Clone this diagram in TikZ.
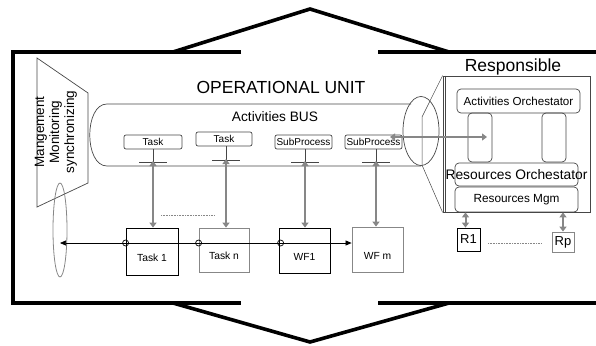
\documentclass[tikz,border=0pt]{standalone}
\usepackage{fontspec}
\setmainfont{Liberation Sans}
\usetikzlibrary{arrows.meta,shapes.geometric}
\definecolor{ag}{RGB}{135,135,135}
\definecolor{dg}{RGB}{70,70,70}
\begin{document}
\begin{tikzpicture}[x=1pt,y=-1pt,
  frameline/.style={line width=4.5pt,line join=miter},
  chev/.style={line width=3.6pt},
  thinline/.style={line width=0.7pt,draw=dg},
  sbox/.style={draw=dg,line width=0.7pt,rounded corners=2pt,inner sep=0pt,minimum height=14pt,font=\fontsize{10}{11}\selectfont},
  bbox/.style={draw,line width=0.8pt,inner sep=0pt,minimum width=52pt,minimum height=46pt,text height=19pt,text depth=0pt,font=\fontsize{10.3}{12}\selectfont},
  obox/.style={draw=dg,line width=0.7pt,rounded corners=4pt,inner sep=0pt},
  rbox/.style={draw,line width=0.8pt,inner sep=0pt,font=\fontsize{13}{14}\selectfont},
  garrow/.style={draw=ag,line width=2.3pt,{Triangle[length=5pt,width=7pt]}-{Triangle[length=5pt,width=7pt]}},
  dotl/.style={draw=ag,line width=0.8pt,dash pattern=on 1pt off 0.6pt},
  hline/.style={line width=0.7pt,{Triangle[length=6pt,width=5pt]}-{Triangle[length=6pt,width=5pt]}},
  ttl/.style={font=\fontsize{17.5}{20}\selectfont}
]
\useasboundingbox (0,0) rectangle (596,345);

% outer frame
\draw[frameline] (241,52) -- (13,52) -- (13,303) -- (241,303);
\draw[frameline] (378,52) -- (600,52);
\draw[frameline] (378,303) -- (600,303);
% chevrons
\draw[chev] (173,52) -- (310,9) -- (449,52);
\draw[chev] (173,303) -- (310,342) -- (449,303);

% titles
\node[ttl] (ou) at (281,87) {OPERATIONAL UNIT};
\node[ttl] (resp) at (513,67) {Responsible};

% management trapezoid
\draw[thinline] (37,58) -- (88,93) -- (88,183) -- (37,207) -- cycle;
\node[rotate=90,align=center,font=\fontsize{13.5}{15}\selectfont] (mgt) at (56,132) {Mangement\\Monitoring\\synchronizing};
\node[draw=ag,line width=0.8pt,ellipse,minimum width=14pt,minimum height=94pt,inner sep=0pt] (mell) at (60,230) {};

% bus
\draw[thinline] (411,104) -- (107,104) .. controls (84,104) and (84,166) .. (107,166) -- (421,166);
\node[draw=dg,line width=0.7pt,ellipse,minimum width=36pt,minimum height=69pt,inner sep=0pt] (bell) at (421,131) {};
\node[font=\fontsize{13.7}{15}\selectfont] (busl) at (275,117) {Activities BUS};

% small boxes on the bus
\node[sbox,minimum width=58pt] (sb1) at (153,142) {Task};
\node[sbox,minimum width=56pt] (sb2) at (224,139) {Task};
\node[sbox,minimum width=57pt] (sb3) at (303.5,142) {SubProcess};
\node[sbox,minimum width=57pt] (sb4) at (373.5,142) {SubProcess};

% ticks
\coordinate (k1) at (153,162);
\coordinate (k2) at (226,160);
\coordinate (k3) at (305,162);
\coordinate (k4) at (376,162);
\foreach \k/\s in {k1/sb1,k2/sb2,k3/sb3,k4/sb4}{
  \draw[thinline] (\k |- \s.south) -- (\k);
  \draw[thinline] ([xshift=-14pt]\k) -- ([xshift=14pt]\k);
}

% bottom boxes
\node[bbox,minimum height=47pt] (b1) at (152,251.5) {Task 1};
\node[bbox,draw=ag,minimum width=50pt,minimum height=44pt] (b2) at (224,250) {Task n};
\node[bbox,minimum width=51pt,minimum height=45pt] (b3) at (304.5,250.5) {WF1};
\node[bbox,draw=ag,minimum width=51pt,minimum height=45pt] (b4) at (377.5,249.5) {WF m};

% gray vertical arrows
\draw[garrow] ([yshift=1pt]k1) -- (k1 |- b1.north);
\draw[garrow] ([yshift=1pt]k2) -- (k2 |- b2.north);
\draw[garrow] ([yshift=1pt]k3) -- (k3 |- b3.north);
\draw[garrow] ([yshift=1pt]k4) -- (k4 |- b4.north);

% dotted between task boxes
\coordinate (d3) at (161,215);
\coordinate (d4) at (215,215);
\draw[dotl] (d3) -- (d4);

% horizontal line with circles
\coordinate (hl) at (0,243);
\draw[hline] (mell.center |- hl) -- (b4.west |- hl);
\draw[line width=0.7pt] (b1.west |- hl) circle (3pt);
\draw[line width=0.7pt] (b2.west |- hl) circle (3pt);
\draw[line width=0.7pt] ([xshift=2pt]b3.west |- hl) circle (3pt);

% responsible panel
\node[draw=dg,line width=0.8pt,minimum width=147pt,minimum height=136pt,inner sep=0pt] (rb) at (516.5,144) {};
\draw[thinline,line width=0.6pt] ([xshift=3pt]rb.north west) -- ([xshift=3pt]rb.south west);
\coordinate (zt) at (422,117);
\coordinate (zb) at (422,165);
\draw[thinline,line width=0.5pt] (rb.north west) -- (zt) -- (zb) -- (rb.south west);

\node[obox,minimum width=123pt,minimum height=24pt,font=\fontsize{11.6}{13}\selectfont] (ao) at (518.5,101) {Activities Orchestator};
\node[obox,minimum width=24pt,minimum height=49pt] (c1) at (480,137.5) {};
\node[obox,minimum width=24pt,minimum height=49pt] (c2) at (554,137.5) {};
\node[obox,minimum width=123pt,minimum height=23pt] (ro) at (516.5,174.5) {};
\node[font=\fontsize{13.8}{15}\selectfont,inner sep=0pt] (rot) at (516.5,175) {Resources Orchestator};
\node[obox,minimum width=123pt,minimum height=25pt,font=\fontsize{11.8}{13}\selectfont] (rm) at (516.5,199.5) {Resources Mgm};

% gray arrow bus -> orchestrators
\coordinate (ra1) at (390,137);
\coordinate (ra2) at (487,137);
\draw[garrow,line width=2pt] (ra1) -- (ra2);

% resources
\node[rbox,minimum width=23pt,minimum height=23pt] (r1) at (468.5,239.5) {R1};
\node[rbox,draw=ag,minimum width=22pt,minimum height=20pt] (rp) at (563,242) {Rp};
\draw[garrow,line width=2pt] ([xshift=-3pt]r1.north |- rb.south) -- ([xshift=-3pt]r1.north);
\draw[garrow,line width=2pt] (rp.north |- rb.south) -- (rp.north);
\coordinate (d1) at (488,243);
\coordinate (d2) at (542,243);
\draw[dotl] (d1) -- (d2);
\end{tikzpicture}
\end{document}
